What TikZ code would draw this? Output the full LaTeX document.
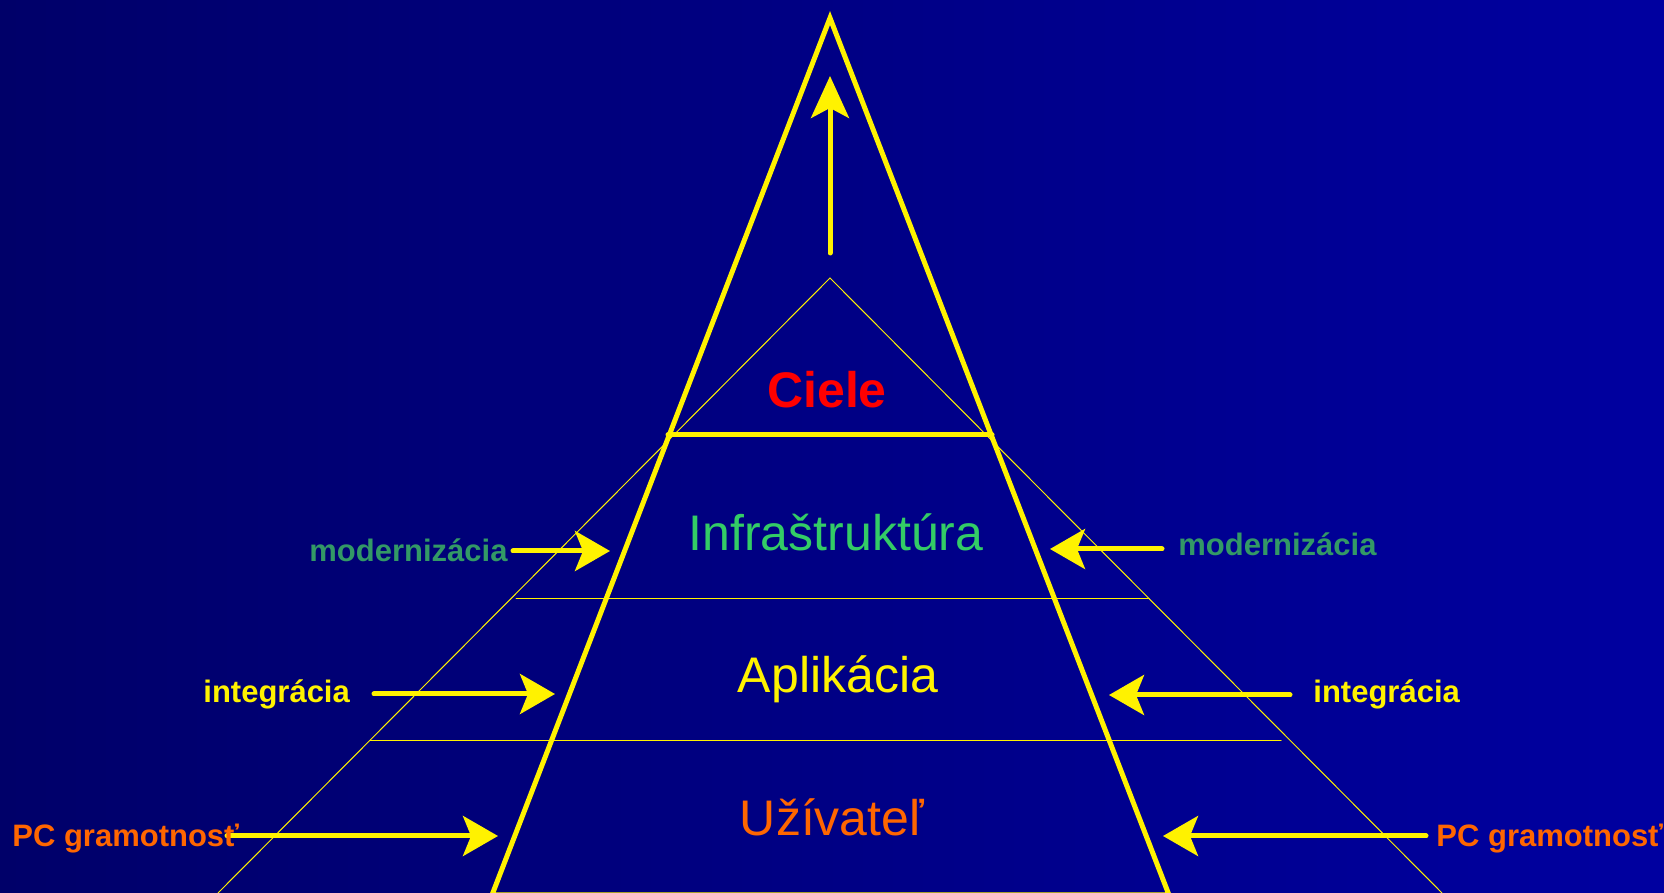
\documentclass[tikz,border=0pt]{standalone}
\usepackage{fontspec}
\setmainfont{Liberation Sans}
\usepackage{tikz}
\usepackage{tkz-euclide}
\usetikzlibrary{arrows.meta}
\definecolor{bgleft}{RGB}{0,0,105}
\definecolor{bgright}{RGB}{0,0,160}
\definecolor{infragreen}{RGB}{51,204,102}
\definecolor{modgreen}{RGB}{51,153,102}
\definecolor{userorange}{RGB}{255,102,0}

\begin{document}
\begin{tikzpicture}[x=0.5pt,y=0.5pt,
    bigtext/.style={font=\fontsize{25}{30}\selectfont,inner sep=0pt,anchor=base},
    sidetext/.style={font=\fontsize{15.5}{18}\selectfont\bfseries,inner sep=0pt,anchor=base west},
    thinline/.style={yellow,line width=0.5pt},
    pyr/.style={yellow,line width=2.5pt,line join=miter},
    push/.style={yellow,line width=2.5pt,-{Stealth[length=17.5pt,width=20pt,inset=4pt]}}]
                \shade[left color=bgleft,right color=bgright] (0,0) rectangle (1664,893);
                \useasboundingbox (0,0) rectangle (1664,893);

                \tkzDefPoint(830,615){InTop}
                \tkzDefPoint(218,0){InL}
                \tkzDefPoint(1442,0){InR}
                \tkzDefPoint(516,294){H1L}
                \tkzDefPoint(1149,294){H1R}
                \tkzDefPoint(370,152){H2L}
                \tkzDefPoint(1281,152){H2R}

                \tkzDrawSegments[thinline](InTop,InL InTop,InR H1L,H1R H2L,H2R)

                \tkzDefPoint(830,875){Top}
                \tkzDefPoint(492,-2){BaseL}
                \tkzDefPoint(1169,-2){BaseR}
                \tkzDefPoint(668,458){CielL}
                \tkzDefPoint(992,458){CielR}

                \tkzDrawPolygon[pyr](Top,BaseL,BaseR)
                \tkzDrawSegment[pyr](CielL,CielR)

                \tkzDefPoint(830,640){UpB}
                \tkzDefPoint(830,817){UpT}
                \tkzDrawSegment[push,-{Stealth[length=21pt,width=19pt,inset=5pt]}](UpB,UpT)

                \tkzDefPoint(513,342){M1L}
                \tkzDefPoint(610,342){M1R}
                \tkzDefPoint(374,199){I1L}
                \tkzDefPoint(555,199){I1R}
                \tkzDefPoint(227,57){P1L}
                \tkzDefPoint(498,57){P1R}

                \tkzDefPoint(1050,344){M2L}
                \tkzDefPoint(1162,344){M2R}
                \tkzDefPoint(1109,198){I2L}
                \tkzDefPoint(1290,198){I2R}
                \tkzDefPoint(1163,57){P2L}
                \tkzDefPoint(1426,57){P2R}

                \tkzDrawSegment[push](M1L,M1R)
                \tkzDrawSegment[push](I1L,I1R)
                \tkzDrawSegment[push](P1L,P1R)
                \tkzDrawSegment[push](M2R,M2L)
                \tkzDrawSegment[push](I2R,I2L)
                \tkzDrawSegment[push](P2R,P2L)

                \tkzDefPoint(827,485){CieleP}
                \tkzDefPoint(836,342){InfraP}
                \tkzDefPoint(838,200){ApplP}
                \tkzDefPoint(832,57){UserP}

                \tkzLabelPoint[bigtext,red,font=\fontsize{25}{30}\selectfont\bfseries,name=ciele](CieleP){Ciele}
                \tkzLabelPoint[bigtext,infragreen,name=infra](InfraP){Infraštruktúra}
                \tkzLabelPoint[bigtext,yellow,name=appl](ApplP){Aplikácia}
                \tkzLabelPoint[bigtext,userorange,name=user](UserP){Užívateľ}

                \tkzDefPoint(309,331){ModL}
                \tkzDefPoint(1178,337){ModR}
                \tkzDefPoint(203,190){IntL}
                \tkzDefPoint(1313,190){IntR}
                \tkzDefPoint(12,46){PcL}
                \tkzDefPoint(1436,46){PcR}

                \tkzLabelPoint[sidetext,modgreen,name=modl](ModL){modernizácia}
                \tkzLabelPoint[sidetext,modgreen,name=modr](ModR){modernizácia}
                \tkzLabelPoint[sidetext,yellow,name=intl](IntL){integrácia}
                \tkzLabelPoint[sidetext,yellow,name=intr](IntR){integrácia}
                \tkzLabelPoint[sidetext,userorange,name=pcl](PcL){PC gramotnosť}
                \tkzLabelPoint[sidetext,userorange,name=pcr](PcR){PC gramotnosť}
            \end{tikzpicture}
\end{document}
